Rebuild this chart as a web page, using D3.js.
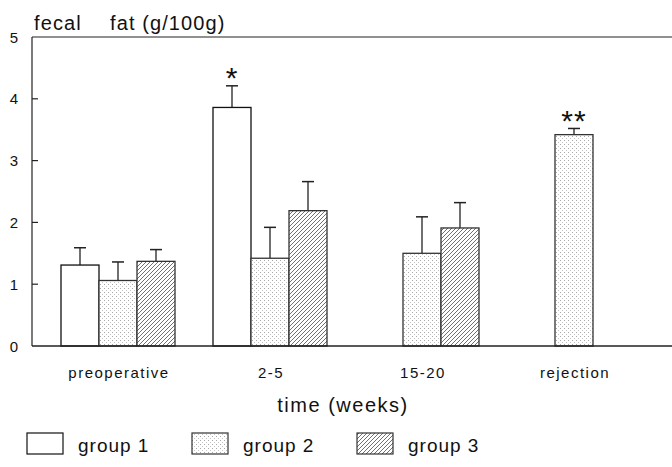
<!DOCTYPE html>
<html>
<head>
<meta charset="utf-8">
<script src="https://cdn.jsdelivr.net/npm/d3@7"></script>
<style>
  body { margin: 0; background: #fff; }
  svg { display: block; font-family: "Liberation Sans", Arial, sans-serif; }
</style>
</head>
<body>
<svg id="chart" width="672" height="467"></svg>
<script>
const categories = ["preoperative", "2-5", "15-20", "rejection"];
const groups = ["group 1", "group 2", "group 3"];
// mean values per group, null = no bar
const group1 = [1.31, 3.86, null, null];
const group2 = [1.06, 1.42, 1.50, 3.42];
const group3 = [1.37, 2.19, 1.91, null];
// upper error (mean + SE)
const err1 = [1.59, 4.21, null, null];
const err2 = [1.36, 1.92, 2.09, 3.52];
const err3 = [1.56, 2.66, 2.32, null];
const marks = [{ cat: "2-5", group: "group 1", text: "*" }, { cat: "rejection", group: "group 2", text: "**" }];
const yTicks = [0, 1, 2, 3, 4, 5];

const svg = d3.select("#chart");
const mLeft = 32, mRight = 672, mTop = 37, mBottom = 346;

const x = d3.scaleBand().domain(categories).range([61, 61 + 152 * 4]);
const xg = d3.scaleBand().domain(groups).range([0, 114]);
const y = d3.scaleLinear().domain([0, 5]).range([mBottom, mTop]);

const defs = svg.append("defs");
const dots = defs.append("pattern").attr("id", "dots").attr("patternUnits", "userSpaceOnUse")
  .attr("width", 4).attr("height", 4);
dots.append("rect").attr("width", 4).attr("height", 4).attr("fill", "#fff");
dots.append("rect").attr("x", 0).attr("y", 0).attr("width", 1).attr("height", 1).attr("fill", "#a8a8a8");
dots.append("rect").attr("x", 2).attr("y", 2).attr("width", 1).attr("height", 1).attr("fill", "#c4c4c4");

const hatch = defs.append("pattern").attr("id", "hatch").attr("patternUnits", "userSpaceOnUse")
  .attr("width", 4).attr("height", 4);
hatch.append("rect").attr("width", 4).attr("height", 4).attr("fill", "#fff");
hatch.append("path").attr("d", "M-1,1 l2,-2 M0,4 l4,-4 M3,5 l2,-2")
  .attr("stroke", "#707070").attr("stroke-width", 1);

const fills = { "group 1": "#fff", "group 2": "url(#dots)", "group 3": "url(#hatch)" };
const strokes = { "group 1": "#111", "group 2": "#333", "group 3": "#333" };

const rows = [];
categories.forEach((c, i) => {
  [[group1, err1], [group2, err2], [group3, err3]].forEach(([v, e], j) => {
    if (v[i] != null) rows.push({ cat: c, group: groups[j], value: v[i], err: e[i] });
  });
});

// frame
svg.append("line").attr("x1", mLeft).attr("x2", mRight).attr("y1", mTop).attr("y2", mTop)
  .attr("stroke", "#222").attr("stroke-width", 1.2);
svg.append("line").attr("x1", mLeft).attr("x2", mLeft).attr("y1", mTop).attr("y2", mBottom)
  .attr("stroke", "#222").attr("stroke-width", 1.2);

// y axis ticks (inside)
yTicks.forEach((t) => {
  if (t > 0 && t < 5) {
    svg.append("line").attr("x1", mLeft).attr("x2", mLeft + 6).attr("y1", y(t)).attr("y2", y(t))
      .attr("stroke", "#222").attr("stroke-width", 1.2);
  }
  svg.append("text").attr("x", 14).attr("y", y(t) + 5.5).attr("text-anchor", "middle")
    .attr("font-size", 15).attr("fill", "#111").text(t);
});

// error bars
rows.forEach((d) => {
  const cx = x(d.cat) + xg(d.group) + xg.bandwidth() / 2;
  svg.append("line").attr("x1", cx).attr("x2", cx).attr("y1", y(d.value)).attr("y2", y(d.err))
    .attr("stroke", "#222").attr("stroke-width", 1.3);
  svg.append("line").attr("x1", cx - 6).attr("x2", cx + 6).attr("y1", y(d.err)).attr("y2", y(d.err))
    .attr("stroke", "#222").attr("stroke-width", 1.5);
});

// bars
svg.selectAll("rect.bar").data(rows).join("rect").attr("class", "bar")
  .attr("x", (d) => x(d.cat) + xg(d.group))
  .attr("y", (d) => y(d.value))
  .attr("width", xg.bandwidth())
  .attr("height", (d) => y(0) - y(d.value))
  .attr("fill", (d) => fills[d.group])
  .attr("stroke", (d) => strokes[d.group])
  .attr("stroke-width", 1.3);

svg.append("line").attr("x1", mLeft).attr("x2", mRight).attr("y1", mBottom).attr("y2", mBottom)
  .attr("stroke", "#222").attr("stroke-width", 1.4);

// significance marks
marks.forEach((m) => {
  const r = rows.find((d) => d.cat === m.cat && d.group === m.group);
  svg.append("text").attr("x", x(m.cat) + xg(m.group) + xg.bandwidth() / 2).attr("y", y(r.err) + 2.5)
    .attr("text-anchor", "middle").attr("font-size", 30).attr("letter-spacing", 1).attr("fill", "#111").text(m.text);
});

// category labels
categories.forEach((c) => {
  svg.append("text").attr("x", x(c) + 58).attr("y", 378).attr("text-anchor", "middle")
    .attr("font-size", 15).attr("letter-spacing", 1.5).attr("fill", "#111").text(c);
});

svg.append("text").attr("x", 343).attr("y", 412).attr("text-anchor", "middle")
  .attr("font-size", 20).attr("letter-spacing", 1.5).attr("fill", "#111").text("time (weeks)");

const title = svg.append("text").attr("y", 30).attr("font-size", 20).attr("letter-spacing", 1.1)
  .attr("fill", "#111");
title.append("tspan").attr("x", 34).text("fecal");
title.append("tspan").attr("x", 110).text("fat (g/100g)");

// legend
groups.forEach((g, i) => {
  const lx = 27 + i * 165;
  svg.append("rect").attr("x", lx).attr("y", 433).attr("width", 36).attr("height", 21)
    .attr("fill", fills[g]).attr("stroke", strokes[g]).attr("stroke-width", 1.2);
  svg.append("text").attr("x", lx + 51).attr("y", 452).attr("font-size", 19).attr("letter-spacing", 1)
    .attr("fill", "#111").text(g);
});
</script>
</body>
</html>
